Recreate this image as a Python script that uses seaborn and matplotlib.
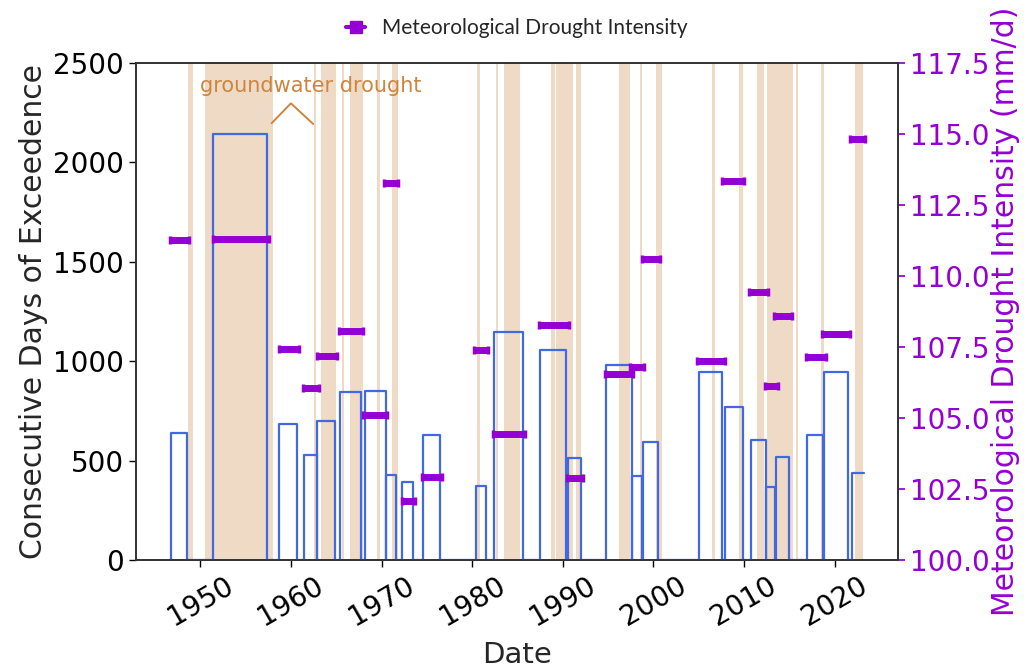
import numpy as np
import pandas as pd
import matplotlib
matplotlib.use("Agg")
import matplotlib.pyplot as plt
from matplotlib.lines import Line2D
import seaborn as sns

# ---- data (decimal years) ----
exc_start = [1946.74, 1951.43, 1958.68, 1961.43, 1962.90, 1965.40, 1968.16, 1970.44, 1972.30,
             1974.60, 1980.40, 1982.40, 1987.45, 1990.57, 1994.80, 1997.60, 1998.85, 2005.00,
             2007.85, 2010.80, 2012.45, 2013.50, 2017.00, 2018.80, 2021.90]
exc_end = [1948.50, 1957.32, 1960.63, 1962.83, 1964.85, 1967.70, 1970.44, 1971.58, 1973.50,
           1976.40, 1981.50, 1985.60, 1990.40, 1992.05, 1997.60, 1998.70, 2000.50, 2007.60,
           2009.87, 2012.45, 2013.44, 2014.94, 2018.70, 2021.45, 2023.20]
exc_days = [637, 2143, 684, 527, 699, 847, 851, 427, 391, 629, 372, 1145, 1056, 515, 981,
            423, 592, 944, 771, 604, 369, 520, 629, 947, 436]

met_start = [1946.65, 1951.35, 1958.65, 1961.35, 1962.85, 1965.30, 1967.95, 1970.25, 1972.25,
             1974.45, 1980.25, 1982.25, 1987.35, 1990.45, 1994.65, 1997.45, 1998.75, 2004.80,
             2007.55, 2010.55, 2012.30, 2013.35, 2016.85, 2018.65, 2021.75]
met_end = [1948.75, 1957.55, 1960.85, 1963.15, 1965.05, 1967.95, 1970.65, 1971.85, 1973.70,
           1976.65, 1981.75, 1985.85, 1990.65, 1992.25, 1997.75, 1998.95, 2000.75, 2007.85,
           2010.05, 2012.65, 2013.75, 2015.25, 2019.05, 2021.65, 2023.35]
met_intensity = [111.27, 111.30, 107.44, 106.05, 107.19, 108.05, 105.09, 113.29, 102.09, 102.91,
                 107.39, 104.44, 108.27, 102.88, 106.55, 106.81, 110.61, 107.00, 113.36, 109.43,
                 106.11, 108.58, 107.14, 107.97, 114.81]

gw_band_start = [1948.60, 1950.50, 1962.60, 1963.30, 1965.60, 1966.50, 1969.55, 1971.10, 1980.55,
                 1982.60, 1983.50, 1988.70, 1989.30, 1991.50, 1996.20, 1998.50, 2000.30, 2006.50,
                 2009.40, 2011.40, 2012.55, 2015.70, 2018.50, 2022.30]
gw_band_end = [1949.20, 1958.05, 1962.80, 1965.00, 1965.90, 1968.00, 1969.80, 1971.80, 1980.85,
               1982.90, 1985.25, 1989.10, 1991.10, 1992.05, 1997.40, 1998.80, 2000.90, 2006.80,
               2009.90, 2012.20, 2015.45, 2016.00, 2018.80, 2023.10]

x_ticks = [1950, 1960, 1970, 1980, 1990, 2000, 2010, 2020]
left_ticks = [0, 500, 1000, 1500, 2000, 2500]
right_ticks = [100.0, 102.5, 105.0, 107.5, 110.0, 112.5, 115.0, 117.5]

annot_text = "groundwater drought"
annot_x, annot_y = 1950.0, 2385
caret_x = [1957.87, 1960.0, 1962.46]
caret_y = [2197, 2297, 2193]

# ---- build step outline from the event arrays ----
xs, ys = [], []
n = len(exc_start)
for i, (s, e, d) in enumerate(zip(exc_start, exc_end, exc_days)):
    xs += [s, s, e]
    ys += [0, d, d]
    if i < n - 1:
        xs.append(e)
        ys.append(0)
step_df = pd.DataFrame({"x": xs, "y": ys})

sns.set_theme(style="ticks")
plt.rcParams["font.family"] = "sans-serif"
plt.rcParams["font.sans-serif"] = ["DejaVu Sans"]

PURPLE = "#9400D3"
BLUE = "#4169E1"
TAN = "peru"

fig = plt.figure(figsize=(10.34, 6.70), dpi=100)
ax = fig.add_axes([0.1315, 0.1642, 0.737, 0.7418])

for s, e in zip(gw_band_start, gw_band_end):
    ax.axvspan(s, e, color=TAN, alpha=0.3, lw=0, zorder=0)

sns.lineplot(data=step_df, x="x", y="y", sort=False, estimator=None, ax=ax,
             color=BLUE, lw=1.6, zorder=3)

ax.set_xlim(1942.9, 2027.0)
ax.set_ylim(0, 2500)
ax.set_xticks(x_ticks)
ax.set_xticklabels([str(t) for t in x_ticks], rotation=30)
ax.set_yticks(left_ticks)
ax.tick_params(axis="both", labelsize=20, length=5, width=1, colors="black")
ax.set_xlabel("Date", fontsize=21, labelpad=7)
ax.set_ylabel("Consecutive Days of Exceedence", fontsize=21.5, labelpad=4)
for sp in ax.spines.values():
    sp.set_visible(True)
    sp.set_color("#333333")

ax.text(annot_x, annot_y, annot_text, color=TAN, fontsize=15, ha="left", va="center")
ax.plot(caret_x, caret_y, color=TAN, lw=1.4)

ax2 = ax.twinx()
mid = (np.array(met_start) + np.array(met_end)) / 2
half = (np.array(met_end) - np.array(met_start)) / 2
ax2.errorbar(mid, met_intensity, xerr=half, fmt="none", ecolor=PURPLE,
             elinewidth=5, capsize=3, capthick=2.5, zorder=5)
ax2.set_ylim(100, 117.5)
ax2.set_yticks(right_ticks)
ax2.set_yticklabels([f"{t:.1f}" for t in right_ticks])
ax2.tick_params(axis="y", labelsize=20, length=5, colors=PURPLE)
ax2.set_ylabel("Meteorological Drought Intensity (mm/d)", fontsize=21.5, color=PURPLE,
               labelpad=1)
for sp in ax2.spines.values():
    sp.set_color("#333333")

handle = Line2D([], [], color=PURPLE, marker="s", ms=9, lw=3)
fig.legend([handle], ["Meteorological Drought Intensity"], loc="center",
           bbox_to_anchor=(0.5, 0.958), frameon=False,
           prop={"family": "Lato", "size": 15}, handlelength=0.9, handletextpad=0.8)

fig.savefig("out.png", dpi=100)
